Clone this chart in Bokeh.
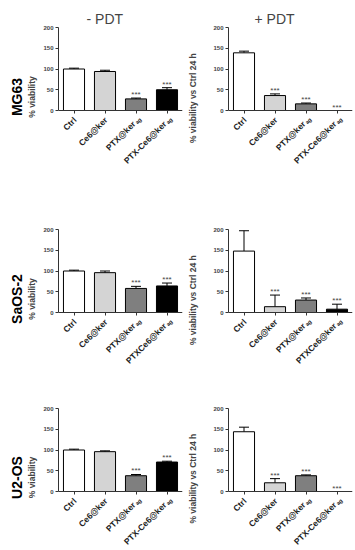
import math
from bokeh.plotting import figure
from bokeh.models import (ColumnDataSource, LabelSet, Whisker, TeeHead, LinearAxis,
                          FixedTicker, Range1d, FactorRange)
from bokeh.layouts import gridplot
from bokeh.embed import file_html
from bokeh.resources import INLINE
from bokeh.core.properties import value

# ---------------- data ----------------
groups = ["Ctrl", "Ce6@ker", "PTX@ker_ag", "PTX-Ce6@ker_ag"]
bar_colors = ["#ffffff", "#d4d4d4", "#7f7f7f", "#000000"]

labels_main_a = ["Ctrl", "Ce6@ker", "PTX@ker", "PTX-Ce6@ker"]
labels_main_b = ["Ctrl", "Ce6@ker", "PTX@ker", "PTXCe6@ker"]
labels_sub = ["", "", "ag", "ag"]

cell_lines = ["MG63", "SaOS-2", "U2-OS"]
col_titles = ["- PDT", "+ PDT"]
ylabel_minus = "% viability"
ylabel_plus = "% viability vs  Ctrl 24 h"
y_ticks = [0, 50, 100, 150, 200]
y_max = 200

mg63_minus = [100, 94, 28, 50]
mg63_minus_err = [2, 3, 2, 5]
mg63_minus_sig = ["", "", "***", "***"]

mg63_plus = [139, 36, 16, 0]
mg63_plus_err = [4, 4, 2, 0]
mg63_plus_sig = ["", "***", "***", "***"]

saos_minus = [100, 96, 58, 64]
saos_minus_err = [2, 4, 5, 7]
saos_minus_sig = ["", "", "***", "***"]

saos_plus = [148, 14, 30, 8]
saos_plus_err = [49, 28, 5, 12]
saos_plus_sig = ["", "***", "***", "***"]

u2os_minus = [100, 96, 38, 71]
u2os_minus_err = [2, 2, 3, 2]
u2os_minus_sig = ["", "", "***", "***"]

u2os_plus = [144, 21, 38, 0]
u2os_plus_err = [11, 10, 2, 0]
u2os_plus_sig = ["", "***", "***", "***"]

FONT = "Liberation Sans"
BAR_PX = 83          # pixel height of the 0..200 part of each panel


def make_panel(vals, errs, sig, main_labels, ylabel, left, b_top, label_px,
               top_title=None, title_offset=0, side_title=None):
    if left:
        bl, br, lab_standoff = 58, 3, 3
    else:
        bl, br, lab_standoff = 37, 8, 12
    y_min = -y_max * label_px / BAR_PX
    p = figure(x_range=FactorRange(factors=groups, range_padding=0),
               y_range=Range1d(y_min, y_max),
               frame_width=124, frame_height=BAR_PX + label_px,
               output_backend="svg", toolbar_location=None,
               min_border_left=bl, min_border_right=br,
               min_border_top=b_top, min_border_bottom=0)
    p.outline_line_color = None
    p.grid.grid_line_color = None
    p.background_fill_color = "white"

    has_sub = [s != "" for s in labels_sub]
    src = ColumnDataSource(dict(
        g=groups, v=vals, hi=[a + b for a, b in zip(vals, errs)],
        color=bar_colors, star=sig, zero=[0] * len(groups),
        main=main_labels, sub=labels_sub,
        mx=[-2 if h else 1 for h in has_sub],
        my=[-12 if h else -8 for h in has_sub]))
    p.vbar(x="g", top="v", width=0.68, source=src, fill_color="color",
           line_color="black", line_width=1)

    keep = [i for i, e in enumerate(errs) if e > 0]
    wsrc = ColumnDataSource(dict(
        g=[groups[i] for i in keep], lo=[vals[i] for i in keep],
        hi=[vals[i] + errs[i] for i in keep]))
    p.add_layout(Whisker(base="g", lower="lo", upper="hi", source=wsrc,
                         dimension="height", line_color="black", line_width=1,
                         upper_head=TeeHead(size=10, line_color="black", line_width=1),
                         lower_head=None))

    p.add_layout(LabelSet(x="g", y="hi", text="star", source=src, y_offset=1,
                          text_align="center", text_baseline="alphabetic",
                          text_font=value(FONT), text_font_size="8px",
                          text_color="#444444"))

    # rotated category labels (inside the frame, below the x axis line)
    p.add_layout(LabelSet(x="g", y="zero", text="main", source=src,
                          x_offset="mx", y_offset="my", angle=math.pi / 4,
                          text_align="right", text_baseline="middle",
                          text_font=value(FONT), text_font_size="8.5px",
                          text_font_style="bold", text_color="#222222"))
    p.add_layout(LabelSet(x="g", y="zero", text="sub", source=src,
                          x_offset=0, y_offset=-12.7, angle=math.pi / 4,
                          text_align="left", text_baseline="middle",
                          text_font=value(FONT), text_font_size="5.5px",
                          text_font_style="bold", text_color="#222222"))

    ax = p.yaxis[0]
    ax.bounds = (0, y_max)
    ax.ticker = FixedTicker(ticks=y_ticks)
    ax.minor_tick_line_color = None
    ax.major_tick_out = 3
    ax.major_tick_in = 0
    ax.major_label_standoff = 2
    ax.major_label_text_font = FONT
    ax.major_label_text_font_size = "6px"
    ax.major_label_text_font_style = "bold"
    ax.axis_label = ylabel
    ax.axis_label_text_font = FONT
    ax.axis_label_text_font_size = "8.5px"
    ax.axis_label_text_font_style = "bold"
    ax.axis_label_standoff = lab_standoff
    ax.axis_line_color = "#333333"
    ax.major_tick_line_color = "#333333"

    xa = p.xaxis[0]
    xa.fixed_location = 0
    xa.major_tick_out = 3
    xa.major_tick_in = 0
    xa.major_label_standoff = 0
    xa.major_label_text_color = None
    xa.major_label_text_font_size = "0px"
    xa.axis_line_color = "#333333"
    xa.major_tick_line_color = "#333333"

    if top_title:
        p.title.text = top_title
        p.title.align = "left"
        p.title.offset = title_offset
        p.title.text_font = FONT
        p.title.text_font_size = "14px"
        p.title.text_font_style = "normal"
        p.title.standoff = 2
    if side_title:
        ax2 = LinearAxis(axis_label=side_title, bounds=(0, y_max),
                         ticker=FixedTicker(ticks=[]))
        ax2.axis_line_color = None
        ax2.major_tick_line_color = None
        ax2.minor_tick_line_color = None
        ax2.major_tick_out = 0
        ax2.major_label_standoff = 0
        ax2.major_label_text_font_size = "0px"
        ax2.axis_label_standoff = 0
        ax2.axis_label_text_font = FONT
        ax2.axis_label_text_font_size = "14px"
        ax2.axis_label_text_font_style = "bold"
        ax2.axis_label_text_color = "black"
        p.add_layout(ax2, "left")
    return p


rows_spec = [(27, 56), (63, 56), (40, 55)]

f1 = make_panel(mg63_minus, mg63_minus_err, mg63_minus_sig, labels_main_a, ylabel_minus,
                True, *rows_spec[0], top_title=col_titles[0], title_offset=28,
                side_title=cell_lines[0])
f2 = make_panel(mg63_plus, mg63_plus_err, mg63_plus_sig, labels_main_a, ylabel_plus,
                False, *rows_spec[0], top_title=col_titles[1], title_offset=26)
f3 = make_panel(saos_minus, saos_minus_err, saos_minus_sig, labels_main_b, ylabel_minus,
                True, *rows_spec[1], side_title=cell_lines[1])
f4 = make_panel(saos_plus, saos_plus_err, saos_plus_sig, labels_main_b, ylabel_plus,
                False, *rows_spec[1])
f5 = make_panel(u2os_minus, u2os_minus_err, u2os_minus_sig, labels_main_a, ylabel_minus,
                True, *rows_spec[2], side_title=cell_lines[2])
f6 = make_panel(u2os_plus, u2os_plus_err, u2os_plus_sig, labels_main_a, ylabel_plus,
                False, *rows_spec[2])

grid = gridplot([[f1, f2], [f3, f4], [f5, f6]], toolbar_location=None)

open("out.html", "w").write(file_html(grid, INLINE))
